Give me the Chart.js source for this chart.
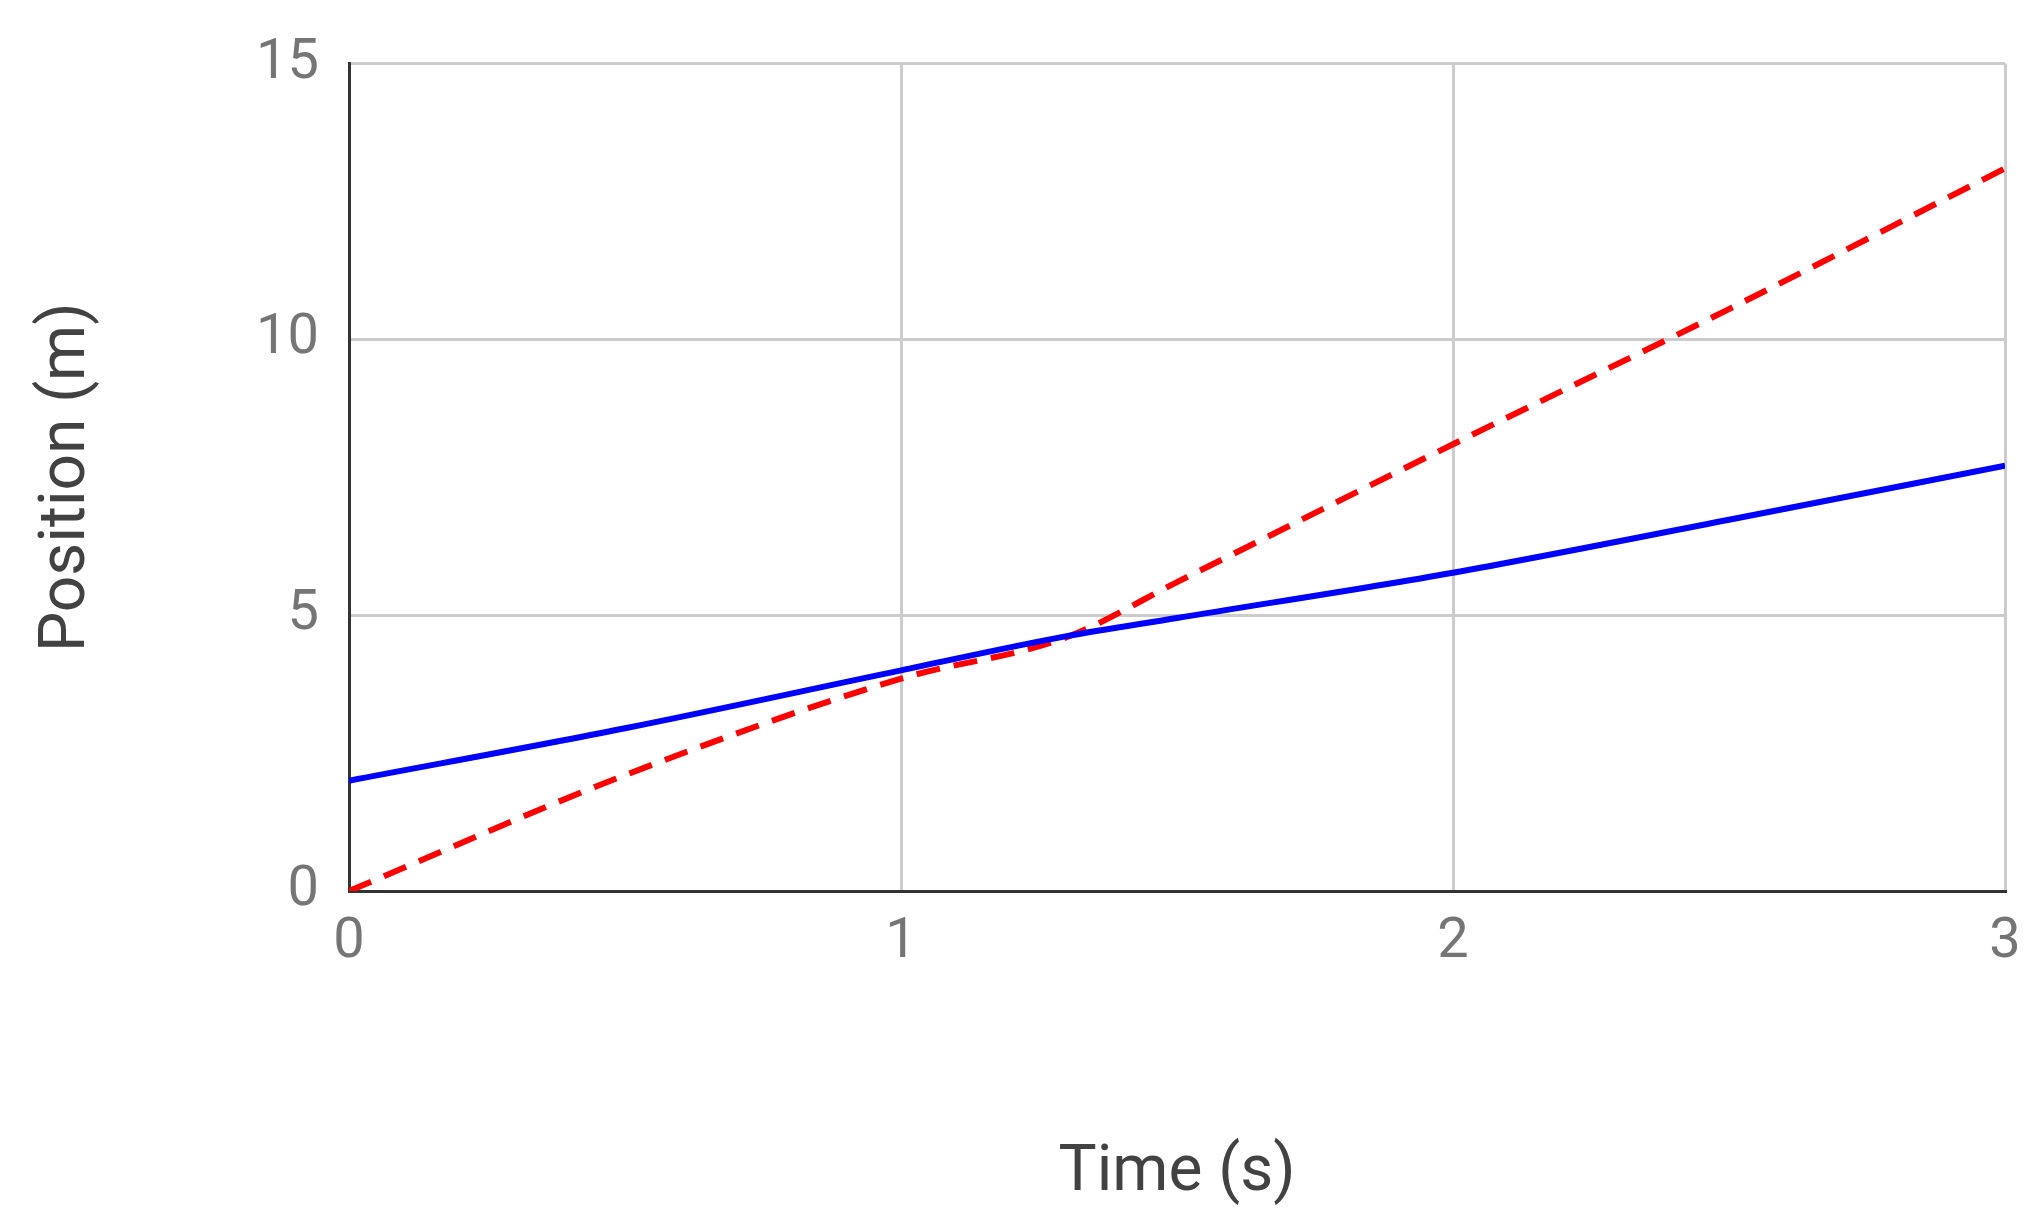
<!DOCTYPE html>
<html>
<head>
<meta charset="utf-8">
<script src="https://cdn.jsdelivr.net/npm/chart.js@4"></script>
<style>
  html, body { margin: 0; padding: 0; background: #fff; }
  #wrap { width: 2041px; height: 1216px; }
</style>
</head>
<body>
<div id="wrap"><canvas id="chart" width="2041" height="1216"></canvas></div>
<script>
// Values
const blueTimes = [0, 0.5, 1, 1.3, 1.5, 2, 2.5, 3];
const bluePositions = [2, 2.95, 4.0, 4.62, 4.95, 5.77, 6.73, 7.71];
const redTimes = [0, 0.5, 1, 1.3, 1.5, 2, 2.5, 3];
const redPositions = [0, 2.1, 3.85, 4.6, 5.6, 8.1, 10.55, 13.1];
const xTicks = [0, 1, 2, 3];
const yTicks = [0, 5, 10, 15];

const toPoints = (xs, ys) => xs.map((x, i) => ({ x: x, y: ys[i] }));

const tickFont = { family: 'Roboto, sans-serif', size: 56 };
const titleFont = { family: 'Roboto, sans-serif', size: 64 };

new Chart(document.getElementById('chart'), {
    type: 'line',
    data: {
        datasets: [{
            data: toPoints(blueTimes, bluePositions),
            borderColor: '#0000ff',
            borderWidth: 6,
            pointRadius: 0,
            cubicInterpolationMode: 'monotone'
        }, {
            data: toPoints(redTimes, redPositions),
            borderColor: '#ff0000',
            borderWidth: 6,
            borderDash: [24, 14],
            pointRadius: 0,
            cubicInterpolationMode: 'monotone'
        }]
    },
    options: {
        responsive: false,
        animation: false,
        devicePixelRatio: 1,
        layout: { padding: { top: 54, right: 36, left: 0, bottom: 0 } },
        plugins: { legend: { display: false }, tooltip: { enabled: false } },
        scales: {
            x: {
                type: 'linear',
                min: 0,
                max: 3,
                afterBuildTicks: axis => { axis.ticks = xTicks.map(v => ({ value: v })); },
                afterFit: axis => { axis.height = 1216 - 891; },
                grid: { color: '#cccccc', lineWidth: 3, drawTicks: false },
                border: { color: '#333333', width: 3 },
                ticks: { color: '#757575', font: tickFont, padding: 18, maxRotation: 0 },
                title: { display: true, text: 'Time (s)', color: '#424242', font: titleFont, padding: { top: 85 } }
            },
            y: {
                min: 0,
                max: 15,
                afterBuildTicks: axis => { axis.ticks = yTicks.map(v => ({ value: v })); },
                afterFit: axis => { axis.width = 349; },
                grid: { color: '#cccccc', lineWidth: 3, drawTicks: false },
                border: { color: '#333333', width: 3 },
                ticks: { color: '#757575', font: tickFont, padding: 30 },
                title: { display: true, text: 'Position (m)', color: '#424242', font: titleFont, padding: { top: 30, bottom: 90 } }
            }
        }
    }
});
</script>
</body>
</html>
